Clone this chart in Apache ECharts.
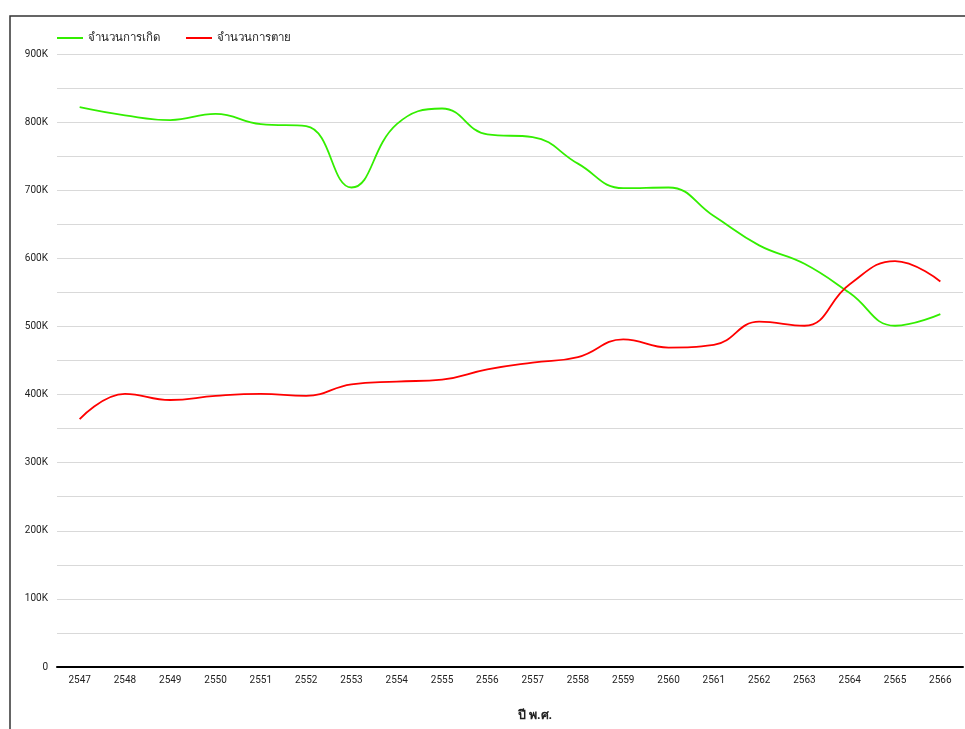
<!DOCTYPE html>
<html>
<head>
<meta charset="utf-8">
<script src="https://cdn.jsdelivr.net/npm/echarts@6/dist/echarts.min.js"></script>
<style>
html,body{margin:0;padding:0;background:#fff;}
#c{width:965px;height:729px;}
</style>
</head>
<body>
<div id="c"></div>
<script>
const years = ['2547','2548','2549','2550','2551','2552','2553','2554','2555','2556','2557','2558','2559','2560','2561','2562','2563','2564','2565','2566'];
const births = [822000,810000,803000,812000,797000,794000,704000,797000,820000,782000,778000,739000,703000,704000,662000,619000,592000,549000,501000,518000];
const deaths = [364000,401000,392000,398000,401000,398000,415000,419000,422000,437000,447000,455000,481000,469000,473000,507000,501000,562000,596000,566000];
const seriesNames = ['จำนวนการเกิด','จำนวนการตาย'];
const xAxisName = 'ปี พ.ศ.';

const font = 'Roboto, "Noto Sans", "DejaVu Sans", sans-serif';
const chart = echarts.init(document.getElementById('c'), null, {renderer:'canvas'});
chart.setOption({
  animation:false,
  textStyle:{fontFamily:font},
  graphic:[{
    type:'rect', silent:true, z:-1,
    shape:{x:10,y:16,width:1000,height:800},
    style:{fill:'none',stroke:'#333',lineWidth:1.5}
  }],
  legend:{
    left:52, top:27, itemWidth:26, itemHeight:2, itemGap:26,
    icon:'rect',
    textStyle:{fontSize:11.5,color:'#222',fontFamily:font},
    data:seriesNames
  },
  grid:{left:57,right:2,top:54,bottom:62,containLabel:false},
  xAxis:{
    type:'category', data:years, boundaryGap:true,
    name:xAxisName, nameLocation:'middle', nameGap:42,
    nameTextStyle:{fontSize:12.5,fontWeight:'bold',color:'#222',padding:[0,0,0,50]},
    axisLine:{lineStyle:{color:'#000',width:2}},
    axisTick:{show:false},
    axisLabel:{fontSize:10,color:'#222',margin:8}
  },
  yAxis:{
    type:'value', min:0, max:900000, interval:50000,
    axisLine:{show:false}, axisTick:{show:false},
    splitLine:{lineStyle:{color:'#d9d9d9',width:1}},
    axisLabel:{fontSize:10,color:'#222',margin:9,
      formatter:v=> v%100000===0 ? (v===0?'0':(v/1000)+'K') : ''}
  },
  series:[
    {name:seriesNames[0],type:'line',data:births,smooth:0.45,symbol:'none',
     lineStyle:{color:'#33ee00',width:1.8},itemStyle:{color:'#33ee00'}},
    {name:seriesNames[1],type:'line',data:deaths,smooth:0.45,symbol:'none',
     lineStyle:{color:'#ff0000',width:1.8},itemStyle:{color:'#ff0000'}}
  ]
});
</script>
</body>
</html>
